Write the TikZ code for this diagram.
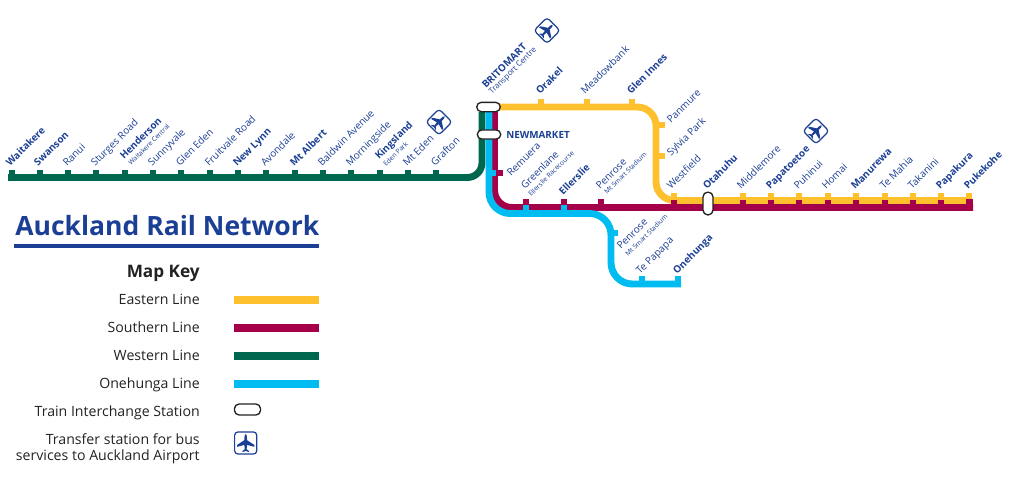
\documentclass[tikz,border=0pt]{standalone}
\usepackage{fontspec}
\setmainfont{Open Sans}
\definecolor{ylw}{HTML}{FFC02E}
\definecolor{red}{HTML}{A5004A}
\definecolor{grn}{HTML}{00674F}
\definecolor{cyn}{HTML}{00BCF1}
\definecolor{nvy}{HTML}{1B3F94}
\definecolor{ink}{HTML}{222222}
\tikzset{
  x=0.75pt,y=-0.75pt,
  railline/.style={line width=5.2pt,line join=round},
  tick/.style={line width=4.5pt},
  st/.style={rotate=45,anchor=base west,inner sep=0pt,text=nvy,font=\fontsize{7.5}{8}\selectfont},
  stb/.style={st,font=\fontsize{7.4}{8}\selectfont\bfseries},
  sub/.style={st,font=\fontsize{5}{6}\selectfont},
  key/.style={anchor=base east,inner sep=0pt,text=ink,font=\fontsize{10.6}{12}\selectfont},
  keybar/.style={line width=5.6pt},
  pill/.style={draw=ink,fill=white,line width=1pt,rounded corners=3.4pt},
  plane/.pic={
    \fill[nvy,x=0.75pt,y=0.75pt] (0,9.5) .. controls (1.2,9) and (1.4,7) .. (1.4,3)
      -- (9,-2) -- (9,-4) -- (1.4,-2) -- (1,-6.5) -- (3.5,-8.5) -- (3.5,-9.5) -- (0,-8.5)
      -- (-3.5,-9.5) -- (-3.5,-8.5) -- (-1,-6.5) -- (-1.4,-2) -- (-9,-4) -- (-9,-2) -- (-1.4,3)
      .. controls (-1.4,7) and (-1.2,9) .. (0,9.5) -- cycle;
  },
  planebox/.style={draw=nvy,fill=white,line width=0.9pt,rounded corners=2.5pt,minimum size=13.8pt,inner sep=0pt,transform shape},
}
\begin{document}
\begin{tikzpicture}
\useasboundingbox (0,0) rectangle (1013,500);
% junction coordinates
\coordinate (wS) at (8,177.5);
\coordinate (wE) at (482,112);
\coordinate (yS) at (490,107);
\coordinate (yE) at (970,200.5);
\coordinate (rS) at (494.5,112);
\coordinate (rE) at (973,207.5);
\coordinate (cS) at (489,112);
\coordinate (cE) at (681,284);
% yellow
\foreach \x in {541,587,632} \draw[ylw,tick] (\x,99) -- (\x,105);
\foreach \y in {125,156} \draw[ylw,tick] (657,\y) -- (665,\y);
\foreach \x in {674,743,771,799,828,856,885,913,941,969} \draw[ylw,tick] (\x,193) -- (\x,202);
\draw[ylw,railline,rounded corners=14pt] (yS) -- (656,107) -- (656,200.5) -- (yE);
% green
\foreach \x in {12,40,68,96,125,153,181,210,238,266,295,323,351,380,408,436} \draw[grn,tick] (\x,170) -- (\x,176);
\draw[grn,railline,rounded corners=11pt] (wS) -- (482,177.5) -- (wE);
% red
\foreach \x in {526,564,601} \draw[red,tick] (\x,199) -- (\x,206);
\foreach \x in {674,743,771,799,828,856,885,913,941} \draw[red,tick] (\x,200) -- (\x,206);
\draw[red,tick] (496,173) -- (503,173);
\draw[red,railline,rounded corners=13pt] (rS) -- (494.5,207.5) -- (rE);
\fill[red] (966,199) rectangle (973,211);
% blue
\foreach \x in {526,564} \draw[cyn,tick] (\x,205) -- (\x,212);
\draw[cyn,tick] (488,173) -- (496,173);
\draw[cyn,tick] (610,233) -- (618,233);
\foreach \x in {642,678} \draw[cyn,tick] (\x,276) -- (\x,283);
\draw[cyn,railline,rounded corners=16pt] (cS) -- (489,213.5) -- (611,213.5) -- (611,284) -- (cE);
% interchanges
\node[pill,minimum width=17.6pt,minimum height=7pt,inner sep=0pt] (britomart) at (488.5,107) {};
\node[pill,minimum width=17.6pt,minimum height=6.8pt,inner sep=0pt] (newmarketpill) at (489,134.5) {};
\node[pill,minimum width=7.4pt,minimum height=17pt,inner sep=0pt] (otahuhupill) at (708,203.5) {};
% airport icons
\node[planebox,rotate=-45] (air1) at (439,122) {};
\node[planebox,rotate=-45] (air2) at (547,30.5) {};
\node[planebox,rotate=-45] (air3) at (816,131) {};
\pic[rotate=-45,scale=0.85] at (air1) {plane};
\pic[rotate=-45,scale=0.85] at (air2) {plane};
\pic[rotate=-45,scale=0.85] at (air3) {plane};
% western labels
\node[stb] (l1) at (10,167) {Waitakere};
\node[stb] (l2) at (38,167) {Swanson};
\node[st] (l3) at (67,167) {Ranui};
\node[st] (l4) at (95,167) {Sturges Road};
\node[stb] (l5) at (124,160) {Henderson};
\node[sub] (l5a) at (131,166) {Waitakere Central};
\node[st] (l6) at (152,167) {Sunnyvale};
\node[st] (l7) at (180,167) {Glen Eden};
\node[st] (l8) at (209,167) {Fruitvale Road};
\node[stb] (l9) at (237,167) {New Lynn};
\node[st] (l10) at (265,167) {Avondale};
\node[stb] (l11) at (294,167) {Mt Albert};
\node[st] (l12) at (322,167) {Baldwin Avenue};
\node[st] (l13) at (350,167) {Morningside};
\node[stb] (l14) at (379,160) {Kingsland};
\node[sub] (l14a) at (386,167) {Eden Park};
\node[st] (l15) at (407,167) {Mt Eden};
\node[st] (l16) at (435,167) {Grafton};
% central labels
\node[stb] (l17) at (486,89) {BRITOMART};
\node[st,font=\fontsize{6}{7}\selectfont] (l17a) at (492,95) {Transport Centre};
\node[stb] (l18) at (540,95) {Orakel};
\node[st] (l19) at (585,95) {Meadowbank};
\node[stb] (l20) at (631,95) {Glen Innes};
\node[st] (l21) at (671,124) {Panmure};
\node[st] (l22) at (671,157) {Sylvia Park};
\node[stb,rotate=-45,anchor=base west] (l23) at (506,138) {NEWMARKET};
\node[st] (l24) at (511,177) {Remuera};
\node[st] (l25) at (525,190) {Greenlane};
\node[sub] (l25a) at (531,197) {Ellerslie Racecourse};
\node[stb] (l26) at (563,196) {Ellerslie};
\node[st] (l27) at (600,190) {Penrose};
\node[sub] (l27a) at (607,195) {Mt Smart Stadium};
\node[st] (l28) at (621,250) {Penrose};
\node[sub] (l28a) at (628,257) {Mt Smart Stadium};
\node[st] (l29) at (640,275) {Te Papapa};
\node[stb] (l30) at (677,275) {Onehunga};
% southern labels
\node[st] (l31) at (671,190) {Westfield};
\node[stb] (l32) at (707,190) {Otahuhu};
\node[st] (l33) at (741,190) {Middlemore};
\node[stb] (l34) at (770,190) {Papatoetoe};
\node[st] (l35) at (798,190) {Puhinui};
\node[st] (l36) at (826,190) {Homai};
\node[stb] (l37) at (855,190) {Manurewa};
\node[st] (l38) at (884,190) {Te Mahia};
\node[st] (l39) at (912,190) {Takanini};
\node[stb] (l40) at (940,190) {Papakura};
\node[stb] (l41) at (968,190) {Pukekohe};
% title
\node[anchor=base west,inner sep=0pt,text=nvy,font=\fontsize{19.9}{24}\selectfont\bfseries] (title) at (15,235) {Auckland Rail Network};
\fill[nvy] (14,244) rectangle (319,248);
% key
\node[key,font=\fontsize{12.9}{15}\selectfont\bfseries] (keyhead) at (200,277) {Map Key};
\node[key] (k1) at (200,304) {Eastern Line};
\node[key] (k2) at (200,332) {Southern Line};
\node[key] (k3) at (200,360) {Western Line};
\node[key] (k4) at (200,388) {Onehunga Line};
\node[key] (k5) at (200,416) {Train Interchange Station};
\node[key] (k6) at (200,444) {Transfer station for bus};
\node[key] (k7) at (200,460) {services to Auckland Airport};
\coordinate (b1) at (234,300); \coordinate (b1e) at (319,300);
\coordinate (b2) at (234,328); \coordinate (b2e) at (319,328);
\coordinate (b3) at (234,356); \coordinate (b3e) at (319,356);
\coordinate (b4) at (234,384); \coordinate (b4e) at (319,384);
\draw[ylw,keybar] (b1) -- (b1e);
\draw[red,keybar] (b2) -- (b2e);
\draw[grn,keybar] (b3) -- (b3e);
\draw[cyn,keybar] (b4) -- (b4e);
\node[pill,minimum width=19.5pt,minimum height=8.2pt,inner sep=0pt] (keypill) at (247.5,409.5) {};
\node[planebox,minimum size=16.6pt] (keyair) at (245.7,443) {};
\pic[scale=0.95] at (keyair) {plane};
\end{tikzpicture}
\end{document}
